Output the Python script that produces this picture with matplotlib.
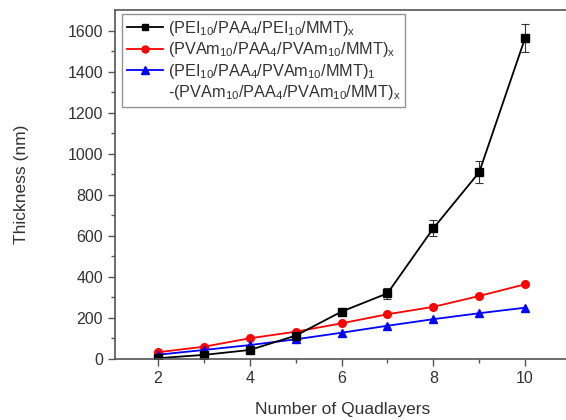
import matplotlib
matplotlib.use("Agg")
import matplotlib.pyplot as plt
from matplotlib.lines import Line2D

plt.rcParams['font.family'] = ['Liberation Sans', 'DejaVu Sans']
plt.rcParams['mathtext.default'] = 'regular'

quadlayers = [2, 3, 4, 5, 6, 7, 8, 9, 10]
pei_pei = [4, 20, 44, 114, 231, 320, 637, 910, 1564]
pei_pei_err = [3, 5, 6, 8, 10, 26, 38, 55, 68]
pvam_pvam = [33, 60, 101, 133, 174, 218, 254, 307, 364]
pei_pvam = [21, 44, 68, 96, 128, 162, 194, 223, 250]

labels = [
    "(PEI$_{10}$/PAA$_4$/PEI$_{10}$/MMT)$_x$",
    "(PVAm$_{10}$/PAA$_4$/PVAm$_{10}$/MMT)$_x$",
    "(PEI$_{10}$/PAA$_4$/PVAm$_{10}$/MMT)$_1$",
    "-(PVAm$_{10}$/PAA$_4$/PVAm$_{10}$/MMT)$_x$",
]
xticks = [2, 4, 6, 8, 10]
yticks = [0, 200, 400, 600, 800, 1000, 1200, 1400, 1600]

fig = plt.figure(figsize=(5.66, 4.2), dpi=100)
ax = fig.add_axes([115/566, 1-359/420, (571-115)/566, (359-10)/420])

tc = '#333333'
sc = '#555555'
ax.errorbar(quadlayers, pei_pei, yerr=pei_pei_err, color='black', marker='s', ms=5.5,
            lw=1.3, capsize=3, elinewidth=0.8, capthick=0.8, ecolor='#333333')
ax.plot(quadlayers, pvam_pvam, color='red', marker='o', ms=5.5, lw=1.3)
ax.plot(quadlayers, pei_pvam, color='blue', marker='^', ms=6, lw=1.3)

handles = [
    Line2D([], [], color='black', marker='s', ms=5, lw=1.3),
    Line2D([], [], color='red', marker='o', ms=5, lw=1.3),
    Line2D([], [], color='blue', marker='^', ms=5.5, lw=1.3),
    Line2D([], [], color='none', lw=0),
]

ax.set_xlim(1.06, 11)
ax.set_ylim(0, 1700)
ax.set_xticks(xticks)
ax.set_yticks(yticks)
ax.set_xticks([3, 5, 7, 9], minor=True)
ax.set_yticks(range(100, 1700, 200), minor=True)
ax.tick_params(direction='out', length=5, width=1, colors=sc, labelcolor=tc, labelsize=11.5)
ax.tick_params(which='minor', direction='out', length=3, width=1, colors=sc)
for s in ax.spines.values():
    s.set_color(sc)
    s.set_linewidth(1.2)

ax.set_xlabel("Number of Quadlayers", fontsize=12.5, color=tc, labelpad=12)
ax.set_ylabel("Thickness (nm)", fontsize=12.5, color=tc, labelpad=28)

leg = ax.legend(handles, labels, loc='upper left', bbox_to_anchor=((122-115)/456, (359-14)/349),
                fontsize=11.7, frameon=True, fancybox=False, handlelength=2.2,
                handletextpad=0.3, borderpad=0.3, labelspacing=0.15, borderaxespad=0)
leg.get_frame().set_edgecolor('#777777')
leg.get_frame().set_linewidth(1)
for t in leg.get_texts():
    t.set_color(tc)

fig.savefig("out.png", dpi=100)
